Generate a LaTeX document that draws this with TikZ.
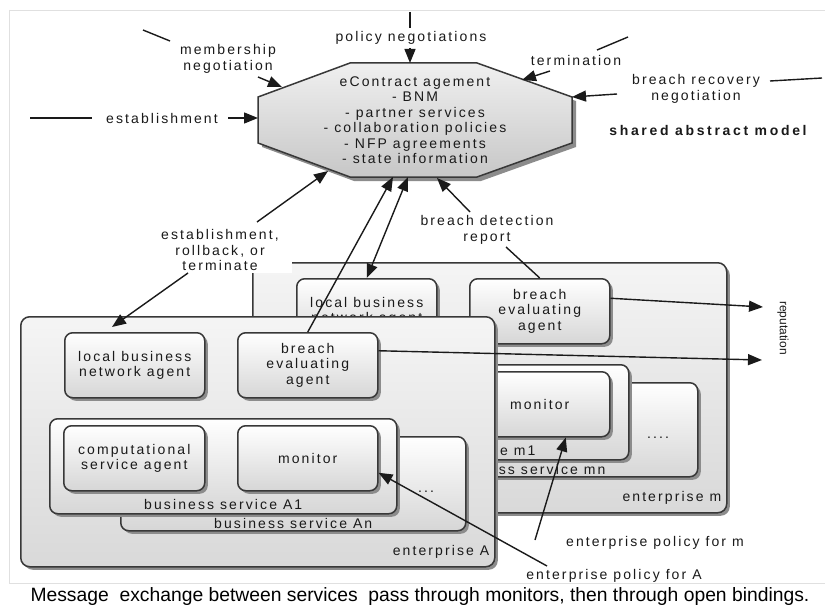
\documentclass[tikz,border=0pt]{standalone}
\usepackage{fontspec}
\setmainfont{Liberation Sans}
\newfontfamily\lblfont[LetterSpace=15]{Liberation Sans}
\newfontfamily\boldlblfont[LetterSpace=19]{Liberation Sans}
\usetikzlibrary{arrows.meta,shadows}
\definecolor{ink}{HTML}{1A1A1A}
\definecolor{edge}{HTML}{383838}
\tikzset{
  lbl/.style={font=\lblfont\fontsize{14}{15.5}\selectfont, text=ink, align=center, inner sep=1pt},
  shade1/.style={drop shadow={shadow xshift=3pt, shadow yshift=-3pt, fill=black!45, opacity=1}},
  ent/.style={draw=edge, line width=1.5pt, rounded corners=9pt, top color=black!4, bottom color=black!15, shade1, inner sep=0pt, anchor=north west},
  ibox/.style={draw=edge, line width=1.5pt, rounded corners=8pt, top color=white, bottom color=black!16, shade1, inner sep=0pt, anchor=north west, lbl},
  conn/.style={draw=ink, line width=1.4pt},
  arr/.style={conn, -{Triangle[length=14pt,width=11pt]}},
  darr/.style={conn, {Triangle[length=14pt,width=11pt]}-{Triangle[length=14pt,width=11pt]}},
}
\newcommand\enterprisebox[6]{%
  \begin{scope}[shift={#2}]
    \node[ent, minimum width=474pt, minimum height=250pt] (ent#1) at (20,316) {};
    \node[lbl, anchor=east] (entl#1) at ([xshift=-5pt,yshift=16pt]ent#1.south east) {#3};
    \node[ibox, minimum width=140pt, minimum height=65pt] (lbn#1) at (64,332) {local business\\network agent};
    \node[ibox, minimum width=140pt, minimum height=65pt] (be#1) at (237,332) {breach\\evaluating\\agent};
    \node[ibox, minimum width=345pt, minimum height=94pt] (bsn#1) at (120,436) {};
    \node[lbl] (bsnl#1) at ([yshift=8pt]bsn#1.south) {#5};
    \node[lbl] (dots#1) at (426,492) {#6};
    \node[ibox, minimum width=347pt, minimum height=95pt] (bsa#1) at (49,418) {};
    \node[lbl] (bsal#1) at ([yshift=10pt]bsa#1.south) {#4};
    \node[ibox, minimum width=141pt, minimum height=65pt] (cs#1) at (63,425) {computational\\service agent};
    \node[ibox, minimum width=140pt, minimum height=65pt] (mon#1) at (237,425) {monitor};
  \end{scope}}
\begin{document}
\begin{tikzpicture}[x=1pt,y=-1pt]
\useasboundingbox (0,0) rectangle (825,610);
\fill[white] (0,0) rectangle (825,610);
\draw[black!12, line width=0.8pt] (9,10) -- (830,10);
\draw[black!12, line width=0.8pt] (9,10) -- (9,583) -- (830,583);

% shared abstract model (octagon)
\fill[black!45] (354,67) -- (481,67) -- (576,101) -- (576,147) -- (481,181) -- (354,181) -- (262,147) -- (262,101) -- cycle;
\draw[draw=edge, line width=1.5pt, top color=black!6, bottom color=black!22]
  (350,63) -- (477,63) -- (572,97) -- (572,143) -- (477,177) -- (350,177) -- (258,143) -- (258,97) -- cycle;
\node[lbl] (oct) at (415,120) {eContract agement\\- BNM\\- partner services\\- collaboration policies\\- NFP agreements\\- state information};
\coordinate (octT) at (410,63);
\coordinate (octMem) at (282,87);
\coordinate (octL) at (258,118);
\coordinate (octTerm) at (522,80);
\coordinate (octR) at (572,97);
\coordinate (octEst) at (328,171);
\coordinate (octB1) at (393,177);
\coordinate (octB2) at (408,177);
\coordinate (octB3) at (437,178);

% enterprise m (behind) and enterprise A
\enterprisebox{m}{(232,-54)}{enterprise m}{business service m1}{business service mn}{....}
\node[lbl, fill=white, minimum width=144pt, minimum height=46pt, inner sep=0pt] (estl) at (220,250) {establishment,\\rollback, or\\terminate};
\enterprisebox{A}{(0,0)}{enterprise A}{business service A1}{business service An}{...}

% labels
\node[lbl] (polL) at (411,38) {policy negotiations};
\node[lbl] (memL) at (228,59) {membership\\negotiation};
\node[lbl] (estabL) at (162,118) {establishment};
\node[lbl] (termL) at (576,60) {termination};
\node[lbl] (recL) at (696,89) {breach recovery\\negotiation};
\node[lbl, font=\boldlblfont\bfseries\fontsize{14}{15.5}\selectfont] (samL) at (708,130) {shared abstract model};
\node[lbl] (bdrL) at (487,230) {breach detection\\report};
\node[font=\fontsize{12}{14}\selectfont, text=ink, rotate=-90] (repL) at (783,328) {reputation};
\node[lbl] (epmL) at (655,543) {enterprise policy for m};
\node[lbl] (epaL) at (614,576) {enterprise policy for A};
\node[font=\fontsize{19.3}{22}\selectfont, text=black] (cap) at (420,597) {Message\ \ exchange between services\ \ pass through monitors, then through open bindings.};

% free line ends
\coordinate (p0) at (410,12); \coordinate (p1) at (410,28); \coordinate (p2) at (410,48);
\coordinate (m0) at (143,30); \coordinate (m1) at (170,41); \coordinate (m2) at (258,77);
\coordinate (e0) at (30,118); \coordinate (e1) at (92,118); \coordinate (e2) at (228,118);
\coordinate (t0) at (597,50); \coordinate (t1) at (628,37); \coordinate (t2) at (550,71);
\coordinate (r0) at (770,81); \coordinate (r1) at (822,78); \coordinate (r2) at (617,94);
\coordinate (rb1) at (257,222); \coordinate (rb2) at (188,273); \coordinate (rbA) at (112,327);
\coordinate (bd1) at (470,212); \coordinate (bd2) at (506,247);
\coordinate (rep1) at (763,307); \coordinate (rep2) at (762,360);
\coordinate (pm) at (535,540); \coordinate (pa) at (547,566);

% connectors
\draw[conn] (p0) -- (p1);
\draw[arr] (p2) -- (octT);
\draw[conn] (m0) -- (m1);
\draw[arr] (m2) -- (octMem);
\draw[conn] (e0) -- (e1);
\draw[arr] (e2) -- (octL);
\draw[conn] (t0) -- (t1);
\draw[arr] (t2) -- (octTerm);
\draw[conn] (r0) -- (r1);
\draw[arr] (r2) -- (octR);
\draw[arr] (rb1) -- (octEst);
\draw[arr] (rb2) -- (rbA);
\draw[arr] (beA.north) -- (octB1);
\draw[darr] (lbnm.north) -- (octB2);
\draw[arr] (bd1) -- (octB3);
\draw[conn] (bd2) -- (bem.north);
\draw[arr] ([yshift=13pt]bem.east) -- (rep1);
\draw[arr] ([yshift=14.5pt]beA.east) -- (rep2);
\draw[arr] (pm) -- ([xshift=26pt]monm.south);
\draw[arr] (pa) -- ([yshift=-14.5pt]monA.east);
\end{tikzpicture}
\end{document}
